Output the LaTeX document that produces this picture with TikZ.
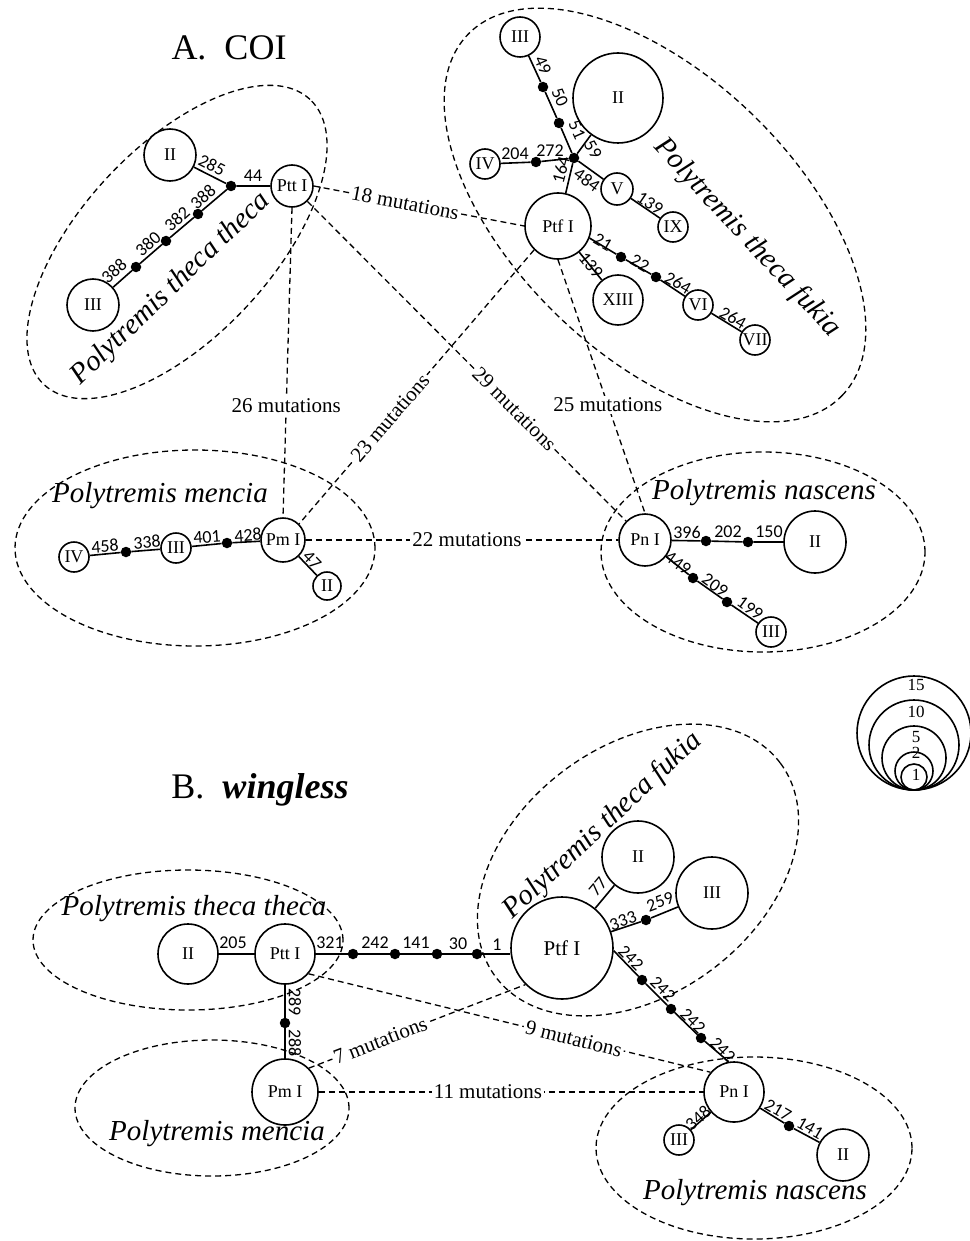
\documentclass[tikz,border=0pt]{standalone}
\usepackage{fontspec}
\setmainfont{Liberation Serif}
\newfontfamily\carl{Carlito}
\newcommand\numf{\carl\fontsize{18}{18}\selectfont}
\newcommand\hapf{\fontsize{18}{18}\selectfont}
\newcommand\mutf{\fontsize{21}{21}\selectfont}
\newcommand\spf{\itshape\fontsize{29}{29}\selectfont}
\newcommand\ttlf{\fontsize{36}{36}\selectfont}
\newcommand\legf{\fontsize{17}{17}\selectfont}
\begin{document}
\begin{tikzpicture}[x=1pt,y=-1pt,
 hap/.style={circle,draw,line width=1.6pt,fill=white,inner sep=0pt,minimum size=#1,font=\hapf},
 dot/.style={circle,fill=black,inner sep=0pt,minimum size=10.5pt},
 edge/.style={line width=1.6pt},
 mut/.style={line width=1.3pt,dash pattern=on 6pt off 4pt},
 ell/.style={line width=1.3pt,dash pattern=on 6pt off 4pt},
 num/.style={font=\numf,inner sep=0pt},
 ml/.style={font=\mutf,fill=white,inner sep=2pt},
 spl/.style={font=\spf,inner sep=0pt},
 ttl/.style={font=\ttlf,inner sep=0pt},
 leg/.style={font=\legf,inner sep=0pt}]
\useasboundingbox (0,0) rectangle (969,1241);
\fill[white] (0,0) rectangle (969,1241);

% ---------- group ellipses ----------
\draw[ell,rotate around={47:(177,242)}] (177,242) ellipse (195pt and 95pt);
\draw[ell,rotate around={-44:(655,215)}] (655,215) ellipse (260pt and 140pt);
\draw[ell] (195,548) ellipse (180pt and 98pt);
\draw[ell] (763,552) ellipse (162pt and 100pt);
\draw[ell] (188,940) ellipse (155pt and 70pt);
\draw[ell,rotate around={37:(638,870)}] (638,870) ellipse (178pt and 124pt);
\draw[ell] (212,1108) ellipse (137pt and 68pt);
\draw[ell] (754,1148) ellipse (158pt and 91pt);

% ---------- titles ----------
\node[ttl] (tA) at (229,48) {A.\hspace{0.5em}COI};
\node[ttl] (tB) at (260,790) {B.\hspace{0.5em}\textbf{\textit{wingless}}};

% ---------- A: haplotypes ----------
\node[hap=42pt] (pttA) at (292,186) {Ptt I};
\node[hap=52pt] (pttA2) at (170,155) {II};
\node[hap=52pt] (pttA3) at (93,305) {III};
\node[dot] (jT) at (231,186) {};
\node[dot] (dT1) at (198,214) {};
\node[dot] (dT2) at (166,241) {};
\node[dot] (dT3) at (136,267) {};

\node[hap=66pt] (ptfA) at (558,226) {Ptf I};
\node[hap=90pt] (ptfA2) at (618,98) {II};
\node[hap=40pt] (ptfA3) at (520,37) {III};
\node[hap=30pt] (ptfA4) at (485,164) {IV};
\node[hap=32pt] (ptfA5) at (617,189) {V};
\node[hap=30pt] (ptfA9) at (673,227) {IX};
\node[hap=50pt] (ptfA13) at (618,300) {XIII};
\node[hap=30pt] (ptfA6) at (698,305) {VI};
\node[hap=30pt] (ptfA7) at (755,340) {VII};
\node[dot] (jF) at (574,158) {};
\node[dot] (dF1) at (543,87) {};
\node[dot] (dF2) at (559,123) {};
\node[dot] (dF3) at (536,162) {};
\node[dot] (dF4) at (621,257) {};
\node[dot] (dF5) at (656,277) {};

\node[hap=44pt] (pmA) at (283,540) {Pm I};
\node[hap=30pt] (pmA3) at (176,548) {III};
\node[hap=30pt] (pmA4) at (74,557) {IV};
\node[hap=28pt] (pmA2) at (327,586) {II};
\node[dot] (dM1) at (126,552) {};
\node[dot] (dM2) at (227,543) {};

\node[hap=52pt] (pnA) at (645,540) {Pn I};
\node[hap=62pt] (pnA2) at (815,542) {II};
\node[hap=30pt] (pnA3) at (771,632) {III};
\node[dot] (dN1) at (706,541) {};
\node[dot] (dN2) at (748,542) {};
\node[dot] (dN3) at (693,578) {};
\node[dot] (dN4) at (727,602) {};

% ---------- B: haplotypes ----------
\node[hap=60pt] (pttB) at (285,954) {Ptt I};
\node[hap=60pt] (pttB2) at (188,954) {II};
\node[dot] (dB1) at (353,954) {};
\node[dot] (dB2) at (395,954) {};
\node[dot] (dB3) at (437,954) {};
\node[dot] (dB4) at (477,954) {};
\node[hap=102pt,font=\fontsize{21}{21}\selectfont] (ptfB) at (562,948) {Ptf I};
\node[hap=72pt] (ptfB2) at (638,857) {II};
\node[hap=72pt] (ptfB3) at (712,893) {III};
\node[dot] (dQ1) at (646,920) {};
\node[dot] (dR1) at (642,980) {};
\node[dot] (dR2) at (671,1009) {};
\node[dot] (dR3) at (701,1038) {};
\node[hap=60pt] (pnB) at (734,1092) {Pn I};
\node[hap=30pt] (pnB3) at (679,1140) {III};
\node[hap=52pt] (pnB2) at (843,1155) {II};
\node[dot] (dP1) at (789,1126) {};
\node[hap=66pt] (pmB) at (285,1092) {Pm I};
\node[dot] (dV) at (285,1023) {};

% ---------- solid edges ----------
\draw[edge] (pttA2) -- (jT) -- (pttA);
\draw[edge] (pttA3) -- (dT3) -- (dT2) -- (dT1) -- (jT);
\draw[edge] (ptfA3) -- (dF1) -- (dF2) -- (jF) -- (ptfA2);
\draw[edge] (ptfA4) -- (dF3) -- (jF) -- (ptfA);
\draw[edge] (jF) -- (ptfA5) -- (ptfA9);
\draw[edge] (ptfA.-21) -- (dF4) -- (dF5) -- (ptfA6) -- (ptfA7);
\draw[edge] (ptfA) -- (ptfA13);
\draw[edge] (pmA4) -- (dM1) -- (pmA3) -- (dM2) -- (pmA) -- (pmA2);
\draw[edge] (pnA) -- (dN1) -- (dN2) -- (pnA2);
\draw[edge] (pnA) -- (dN3) -- (dN4) -- (pnA3);

\draw[edge] (pttB2) -- (pttB) -- (dB1) -- (dB2) -- (dB3) -- (dB4) -- (dB4 -| ptfB.west);
\draw[edge] (pttB) -- (dV) -- (pmB);
\draw[edge] (ptfB) -- (ptfB2);
\draw[edge] (ptfB) -- (dQ1) -- (ptfB3);
\draw[edge] (ptfB.-3) -- (dR1) -- (dR2) -- (dR3) -- (pnB.100);
\draw[edge] (pnB) -- (pnB3);
\draw[edge] (pnB) -- (dP1) -- (pnB2);

% ---------- edge numbers ----------
\foreach \t/\x/\y/\r [count=\i] in {
 285/212/165/-27, 44/253/176/0, 388/203/197/42, 382/177/219/42, 380/148/244/42, 388/114/271/42,
 49/543/65/-66, 50/560/97/-66, 51/577/130/-66, 59/593/150/-60, 204/515/154/0, 272/550/151/0,
 164/561/170/75, 484/587/180/-36, 139/650/203/-34, 21/603/242/-30, 22/640/263/-30,
 264/678/283/-30, 264/733/318/-30, 139/591/265/-51,
 458/105/546/4, 338/147/542/4, 401/207/537/4, 428/248/535/4, 47/312/560/-46,
 396/687/532/0, 202/728/532/0, 150/769/532/0, 449/678/563/-36, 209/715/585/-36, 199/750/608/-36,
 205/233/943/0, 321/330/943/0, 242/375/943/0, 141/416/943/0, 30/458/944/0, 1/497/945/0,
 289/295/1002/-90, 288/295/1043/-90, 77/598/887/50, 333/623/921/20, 259/660/902/20,
 242/631/958/-45, 242/663/989/-45, 242/693/1021/-45, 242/723/1050/-45,
 348/698/1118/41, 217/778/1110/-30, 141/810/1128/-30}
 \node[num,rotate=\r] (lab\i) at (\x,\y) {\t};

% ---------- mutation connectors ----------
\draw[mut] (pttA.east) -- node[ml,sloped,pos=.434] (m18) {18 mutations} (ptfA.west);
\draw[mut] (pttA.south) -- node[ml,pos=.64] (m26) {26 mutations} (pmA.north);
\draw[mut] (pttA.-45) -- node[ml,sloped,pos=.65] (m29) {29 mutations} (pnA.135);
\draw[mut] (ptfA.225) -- node[ml,sloped,pos=.613] (m23) {23 mutations} (pmA.45);
\draw[mut] (ptfA.south) -- node[ml,pos=.573] (m25) {25 mutations} (pnA.north);
\draw[mut] (pmA.east) -- node[ml,pos=.516] (m22) {22 mutations} (pnA.west);
\draw[mut] (pmB.45) -- node[ml,sloped,pos=.33] (m7) {7 mutations} (ptfB.225);
\draw[mut] (pttB.-40) -- node[ml,sloped,pos=.66] (m9) {9 mutations} (pnB.140);
\draw[mut] (pmB.east) -- node[ml,pos=.44] (m11) {11 mutations} (pnB.west);

% ---------- species labels ----------
\node[spl,rotate=44] (sA1) at (171,289) {Polytremis theca theca};
\node[spl,rotate=-47] (sA2) at (747,238) {Polytremis theca fukia};
\node[spl] (sA3) at (160,496) {Polytremis mencia};
\node[spl] (sA4) at (764,493) {Polytremis nascens};
\node[spl] (sB1) at (194,909) {Polytremis theca theca};
\node[spl,rotate=43] (sB2) at (603,826) {Polytremis theca fukia};
\node[spl] (sB3) at (217,1134) {Polytremis mencia};
\node[spl] (sB4) at (755,1193) {Polytremis nascens};

% ---------- legend ----------
\foreach \r in {57,45,32,19,13}
 \draw[line width=1.6pt] (914,790-\r) circle (\r pt);
\node[leg] (g15) at (916,685) {15};
\node[leg] (g10) at (916,712) {10};
\node[leg] (g5) at (916,737) {5};
\node[leg] (g2) at (916,753) {2};
\node[leg] (g1) at (916,775) {1};
\end{tikzpicture}
\end{document}
